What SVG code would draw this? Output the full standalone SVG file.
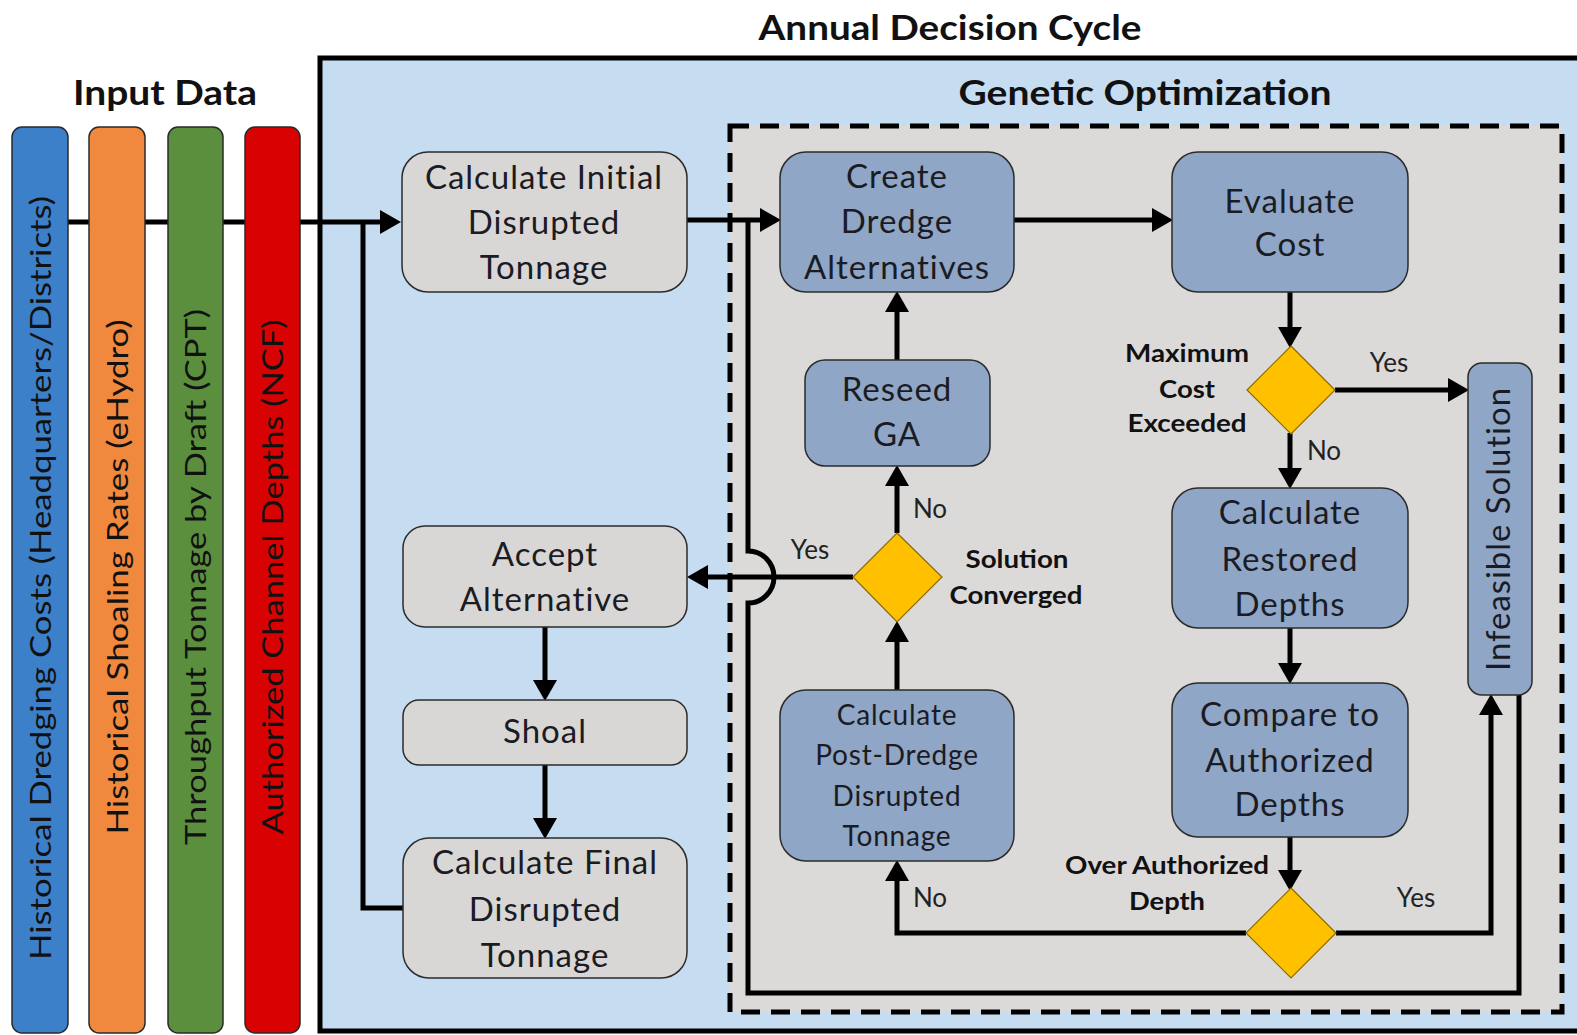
<svg xmlns="http://www.w3.org/2000/svg" width="1577" height="1035" viewBox="0 0 1577 1035">
  <style>
    .t { font-family: Lato, "Liberation Sans", sans-serif; fill: #111; text-anchor: middle; }
    .title { font-weight: bold; font-size: 35px; }
    .node { font-size: 33px; letter-spacing: 1px; fill: #1b1b24; }
    .small { font-size: 28px; letter-spacing: 0.8px; fill: #1b1b24; }
    .lbl { font-size: 26px; fill: #222; }
    .blbl { font-weight: bold; font-size: 25px; }
    .bar-t { font-size: 29px; }
    .light { fill: #d8d7d6; stroke: #2b2b2b; stroke-width: 1.5; }
    .blue { fill: #8fa6c6; stroke: #2b2b2b; stroke-width: 1.5; }
    .dia { fill: #ffc000; stroke: #8a6a00; stroke-width: 1.2; }
    .bar { stroke: #2a2a2a; stroke-width: 1.5; }
    .conn { fill: none; stroke: #000; stroke-width: 5; }
  </style>
  <defs>
    <marker id="arrow" markerUnits="userSpaceOnUse" markerWidth="22" markerHeight="24" refX="16" refY="12" orient="auto">
      <path d="M0,0 L21,12 L0,24 z" fill="#000"/>
    </marker>
  </defs>

  <rect x="0" y="0" width="1577" height="1035" fill="#fff"/>

  <!-- headings -->
  <text class="t title" x="950" y="40" textLength="383" lengthAdjust="spacingAndGlyphs">Annual Decision Cycle</text>
  <text class="t title" x="165" y="105" textLength="184" lengthAdjust="spacingAndGlyphs">Input Data</text>

  <!-- annual decision cycle frame -->
  <rect x="320" y="58" width="1275" height="973" fill="#c5dcf1" stroke="#000" stroke-width="5"/>
  <text class="t title" x="1145" y="105" textLength="373" lengthAdjust="spacingAndGlyphs">Genetic Optimization</text>

  <!-- genetic optimization region -->
  <rect x="730" y="126" width="832" height="886" fill="#dbdad9" stroke="#000" stroke-width="5" stroke-dasharray="19 11"/>

  <!-- connectors -->
  <g id="connectors">
    <!-- input data feed -->
    <path class="conn" d="M68,222 L396,222" marker-end="url(#arrow)"/>
    <path class="conn" d="M363,222 L363,908 L403,908"/>
    <!-- initial tonnage to dredge alternatives -->
    <path class="conn" d="M687,220 L776,220" marker-end="url(#arrow)"/>
    <!-- dredge alternatives to evaluate cost -->
    <path class="conn" d="M1014,220 L1168,220" marker-end="url(#arrow)"/>
    <!-- evaluate cost to maximum cost decision -->
    <path class="conn" d="M1290,292 L1290,343" marker-end="url(#arrow)"/>
    <!-- max cost: yes -->
    <path class="conn" d="M1335,390 L1464,390" marker-end="url(#arrow)"/>
    <!-- max cost: no -->
    <path class="conn" d="M1290,433 L1290,484" marker-end="url(#arrow)"/>
    <!-- restored to compare -->
    <path class="conn" d="M1290,628 L1290,679" marker-end="url(#arrow)"/>
    <!-- compare to over authorized decision -->
    <path class="conn" d="M1290,837 L1290,886" marker-end="url(#arrow)"/>
    <!-- over authorized: no -->
    <path class="conn" d="M1246,933 L897,933 L897,865" marker-end="url(#arrow)"/>
    <!-- over authorized: yes -->
    <path class="conn" d="M1336,933 L1491,933 L1491,699" marker-end="url(#arrow)"/>
    <!-- post-dredge to solution converged -->
    <path class="conn" d="M897,690 L897,626" marker-end="url(#arrow)"/>
    <!-- solution converged: no -->
    <path class="conn" d="M897,533 L897,470" marker-end="url(#arrow)"/>
    <!-- reseed to dredge alternatives -->
    <path class="conn" d="M897,360 L897,296" marker-end="url(#arrow)"/>
    <!-- solution converged: yes -->
    <path class="conn" d="M853,577 L692,577" marker-end="url(#arrow)"/>
    <!-- infeasible loop back, hopping over the yes branch -->
    <path class="conn" d="M1519,695 L1519,993 L748,993 L748,603 A26,26 0 0 0 748,551 L748,220"/>
    <!-- accept to shoal to final -->
    <path class="conn" d="M545,627 L545,696" marker-end="url(#arrow)"/>
    <path class="conn" d="M545,765 L545,834" marker-end="url(#arrow)"/>
  </g>

  <!-- input data bars -->
  <g id="input-dredging-costs">
    <rect class="bar" x="12" y="127" width="56" height="906" rx="10" fill="#3c80c9"/>
    <text class="t bar-t" transform="translate(51,578) rotate(-90)" x="0" y="0" textLength="764" lengthAdjust="spacingAndGlyphs">Historical Dredging Costs (Headquarters/Districts)</text>
  </g>
  <g id="input-shoaling-rates">
    <rect class="bar" x="89" y="127" width="56" height="906" rx="10" fill="#f0883d"/>
    <text class="t bar-t" transform="translate(128,577) rotate(-90)" x="0" y="0" textLength="515" lengthAdjust="spacingAndGlyphs">Historical Shoaling Rates (eHydro)</text>
  </g>
  <g id="input-throughput">
    <rect class="bar" x="168" y="127" width="55" height="906" rx="10" fill="#5b8f3e"/>
    <text class="t bar-t" transform="translate(206,577) rotate(-90)" x="0" y="0" textLength="536" lengthAdjust="spacingAndGlyphs">Throughput Tonnage by Draft (CPT)</text>
  </g>
  <g id="input-channel-depths">
    <rect class="bar" x="245" y="127" width="55" height="906" rx="10" fill="#d80202"/>
    <text class="t bar-t" transform="translate(283,577) rotate(-90)" x="0" y="0" textLength="515" lengthAdjust="spacingAndGlyphs">Authorized Channel Depths (NCF)</text>
  </g>

  <!-- annual cycle nodes -->
  <g id="calc-initial">
    <rect class="light" x="402" y="152" width="285" height="140" rx="26"/>
    <text class="t node" x="544" y="189">Calculate Initial</text>
    <text class="t node" x="544" y="234">Disrupted</text>
    <text class="t node" x="544" y="279">Tonnage</text>
  </g>
  <g id="accept-alternative">
    <rect class="light" x="403" y="526" width="284" height="101" rx="22"/>
    <text class="t node" x="545" y="566">Accept</text>
    <text class="t node" x="545" y="611">Alternative</text>
  </g>
  <g id="shoal">
    <rect class="light" x="403" y="700" width="284" height="65" rx="16"/>
    <text class="t node" x="545" y="743">Shoal</text>
  </g>
  <g id="calc-final">
    <rect class="light" x="403" y="838" width="284" height="140" rx="26"/>
    <text class="t node" x="545" y="874">Calculate Final</text>
    <text class="t node" x="545" y="921">Disrupted</text>
    <text class="t node" x="545" y="967">Tonnage</text>
  </g>

  <!-- genetic optimization nodes -->
  <g id="create-dredge">
    <rect class="blue" x="780" y="152" width="234" height="140" rx="26"/>
    <text class="t node" x="897" y="188">Create</text>
    <text class="t node" x="897" y="233">Dredge</text>
    <text class="t node" x="897" y="279">Alternatives</text>
  </g>
  <g id="evaluate-cost">
    <rect class="blue" x="1172" y="152" width="236" height="140" rx="26"/>
    <text class="t node" x="1290" y="213">Evaluate</text>
    <text class="t node" x="1290" y="256">Cost</text>
  </g>
  <g id="reseed-ga">
    <rect class="blue" x="805" y="360" width="185" height="106" rx="20"/>
    <text class="t node" x="897" y="401">Reseed</text>
    <text class="t node" x="897" y="446">GA</text>
  </g>
  <g id="post-dredge">
    <rect class="blue" x="780" y="690" width="234" height="171" rx="26"/>
    <text class="t small" x="897" y="725">Calculate</text>
    <text class="t small" x="897" y="765">Post-Dredge</text>
    <text class="t small" x="897" y="806">Disrupted</text>
    <text class="t small" x="897" y="846">Tonnage</text>
  </g>
  <g id="restored-depths">
    <rect class="blue" x="1172" y="488" width="236" height="140" rx="26"/>
    <text class="t node" x="1290" y="524">Calculate</text>
    <text class="t node" x="1290" y="571">Restored</text>
    <text class="t node" x="1290" y="616">Depths</text>
  </g>
  <g id="compare-depths">
    <rect class="blue" x="1172" y="683" width="236" height="154" rx="26"/>
    <text class="t node" x="1290" y="726">Compare to</text>
    <text class="t node" x="1290" y="772">Authorized</text>
    <text class="t node" x="1290" y="816">Depths</text>
  </g>
  <g id="infeasible">
    <rect class="blue" x="1468" y="363" width="64" height="332" rx="14"/>
    <text class="t node" transform="translate(1510,529) rotate(-90)" x="0" y="0" textLength="284" lengthAdjust="spacingAndGlyphs">Infeasible Solution</text>
  </g>

  <!-- decisions -->
  <g id="max-cost">
    <path class="dia" d="M1291,346 L1335,390 L1291,434 L1247,390 z"/>
    <text class="t blbl" x="1187" y="362" textLength="124" lengthAdjust="spacingAndGlyphs">Maximum</text>
    <text class="t blbl" x="1187" y="398" textLength="56" lengthAdjust="spacingAndGlyphs">Cost</text>
    <text class="t blbl" x="1187" y="432" textLength="119" lengthAdjust="spacingAndGlyphs">Exceeded</text>
    <text class="t lbl" x="1389" y="372">Yes</text>
    <text class="t lbl" x="1324" y="460">No</text>
  </g>
  <g id="solution-converged">
    <path class="dia" d="M897,533 L942,577 L897,622 L853,577 z"/>
    <text class="t blbl" x="1017" y="568" textLength="103" lengthAdjust="spacingAndGlyphs">Solution</text>
    <text class="t blbl" x="1016" y="604" textLength="133" lengthAdjust="spacingAndGlyphs">Converged</text>
    <text class="t lbl" x="930" y="518">No</text>
    <text class="t lbl" x="810" y="559">Yes</text>
  </g>
  <g id="over-authorized">
    <path class="dia" d="M1291,888 L1336,933 L1291,978 L1246,933 z"/>
    <text class="t blbl" x="1167" y="874" textLength="204" lengthAdjust="spacingAndGlyphs">Over Authorized</text>
    <text class="t blbl" x="1167" y="910" textLength="76" lengthAdjust="spacingAndGlyphs">Depth</text>
    <text class="t lbl" x="930" y="907">No</text>
    <text class="t lbl" x="1416" y="907">Yes</text>
  </g>
</svg>
